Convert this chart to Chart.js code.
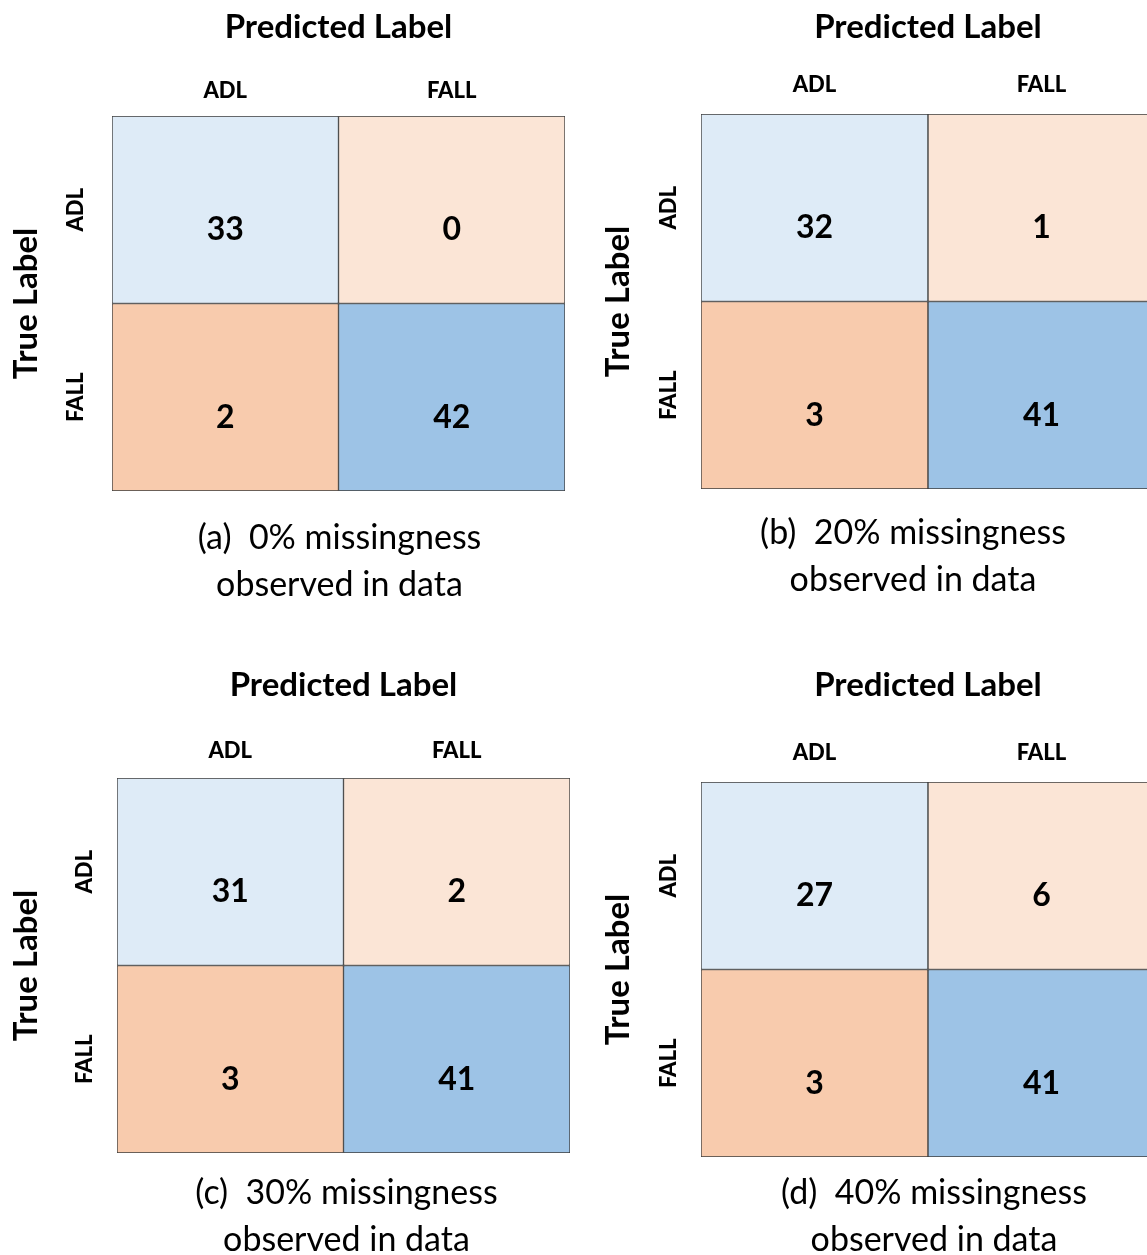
<!DOCTYPE html>
<html>
<head>
<meta charset="utf-8">
<script src="https://cdn.jsdelivr.net/npm/chart.js@4.4.1/dist/chart.umd.min.js"></script>
<style>
  html, body { margin: 0; padding: 0; background: #fff; overflow: hidden; }
  #wrap { position: relative; width: 1147px; height: 1255px; overflow: hidden; }
  canvas { position: absolute; }
</style>
</head>
<body>
<div id="wrap">
  <canvas id="cmA" width="580" height="620" style="left:0px;top:0px"></canvas>
  <canvas id="cmB" width="580" height="620" style="left:589px;top:-2px"></canvas>
  <canvas id="cmC" width="580" height="620" style="left:5px;top:662px"></canvas>
  <canvas id="cmD" width="580" height="620" style="left:589px;top:666px"></canvas>
</div>
<script>
// data
const predictedLabels = ['ADL', 'FALL'];
const trueLabels = ['ADL', 'FALL'];

const countsA = [[33, 0], [2, 42]];
const countsB = [[32, 1], [3, 41]];
const countsC = [[31, 2], [3, 41]];
const countsD = [[27, 6], [3, 41]];

const captionA = ['(a)  0% missingness', 'observed in data'];
const captionB = ['(b)  20% missingness', 'observed in data'];
const captionC = ['(c)  30% missingness', 'observed in data'];
const captionD = ['(d)  40% missingness', 'observed in data'];

// styling
const cellColors = [['#DEEBF7', '#FBE5D6'], ['#F8CBAD', '#9DC3E6']];
const FONT = 'Lato';

const panels = [
  { id: 'cmA', counts: countsA, caption: captionA, padRight: 15, titlePad: 8, tickPad: 4, yTitlePad: 7, yTickPad: 3, capDx: 1, capDy: 47 },
  { id: 'cmB', counts: countsB, caption: captionB, padRight: 14, titlePad: 10, tickPad: 8, yTitlePad: 10, yTickPad: -1, capDx: -15, capDy: 44 },
  { id: 'cmC', counts: countsC, caption: captionC, padRight: 15, titlePad: 4, tickPad: 6, yTitlePad: 2, yTickPad: -1, capDx: 3, capDy: 40 },
  { id: 'cmD', counts: countsD, caption: captionD, padRight: 14, titlePad: 0, tickPad: 8, yTitlePad: 10, yTickPad: -1, capDx: 6, capDy: 36 }
];

// draws the count in each cell
const cellText = {
  id: 'cellText',
  afterDatasetsDraw(chart) {
    const ctx = chart.ctx;
    ctx.save();
    ctx.font = 'bold 32px ' + FONT;
    ctx.fillStyle = '#000';
    ctx.textAlign = 'center';
    ctx.textBaseline = 'middle';
    chart.data.datasets.forEach((ds, i) => {
      chart.getDatasetMeta(i).data.forEach((bar, j) => {
        const c = bar.getCenterPoint();
        ctx.fillText(String(ds.counts[j]), c.x, c.y + 20);
      });
    });
    ctx.restore();
  }
};

// caption under the matrix
const caption = {
  id: 'caption',
  afterDraw(chart, args, opts) {
    const ctx = chart.ctx;
    const area = chart.chartArea;
    ctx.save();
    ctx.font = '34px ' + FONT;
    ctx.fillStyle = '#000';
    ctx.textAlign = 'center';
    ctx.textBaseline = 'middle';
    opts.lines.forEach((line, k) => {
      ctx.fillText(line, (area.left + area.right) / 2 + opts.dx, area.bottom + opts.dy + k * 47);
    });
    ctx.restore();
  }
};

function drawMatrix(p) {
  const ctx = document.getElementById(p.id).getContext('2d');
  const n = trueLabels.length;

  const datasets = trueLabels.map((t, row) => ({
    label: t,
    data: predictedLabels.map(() => [n - 1 - row, n - row]),
    counts: p.counts[row],
    backgroundColor: cellColors[row],
    borderColor: '#3d3d3d',
    borderWidth: 1,
    borderSkipped: false,
    grouped: false,
    categoryPercentage: 1,
    barPercentage: 1
  }));

  return new Chart(ctx, {
    type: 'bar',
    data: { labels: predictedLabels, datasets: datasets },
    plugins: [cellText, caption],
    options: {
      responsive: false,
      animation: false,
      layout: { padding: { left: 0, top: 0, right: p.padRight, bottom: 129 } },
      plugins: {
        legend: { display: false },
        tooltip: { enabled: false },
        caption: { lines: p.caption, dx: p.capDx, dy: p.capDy }
      },
      scales: {
        x: {
          type: 'category',
          position: 'top',
          offset: true,
          grid: { display: false },
          border: { display: false },
          ticks: { color: '#000', font: { family: FONT, weight: 900, size: 22 }, padding: p.tickPad, maxRotation: 0 },
          title: {
            display: true, text: 'Predicted Label', color: '#000',
            font: { family: FONT, weight: 'bold', size: 33 },
            padding: { top: p.titlePad, bottom: 0 }
          },
          afterFit: s => { s.height = 116; }
        },
        y: {
          min: 0,
          max: n,
          grid: { display: false },
          border: { display: false },
          afterBuildTicks: s => {
            s.ticks = trueLabels.map((t, i) => ({ value: i + 0.5 }));
          },
          ticks: {
            callback: v => trueLabels[n - 1 - Math.floor(v)],
            minRotation: 90,
            maxRotation: 90,
            crossAlign: 'center',
            padding: p.yTickPad,
            color: '#000',
            font: { family: FONT, weight: 900, size: 22 }
          },
          title: {
            display: true, text: 'True Label', color: '#000',
            font: { family: FONT, weight: 'bold', size: 33 },
            padding: { top: p.yTitlePad, bottom: 0 }
          },
          afterFit: s => { s.width = 112; }
        }
      }
    }
  });
}

panels.forEach(drawMatrix);
</script>
</body>
</html>
